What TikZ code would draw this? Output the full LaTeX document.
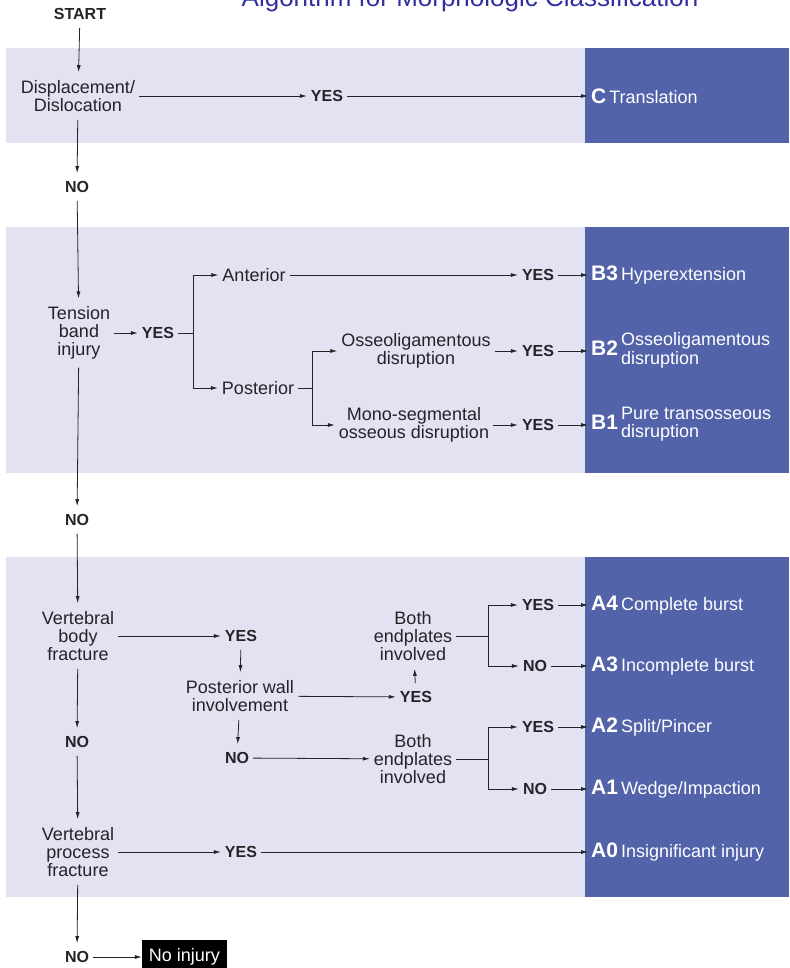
\documentclass[tikz,border=0pt]{standalone}
\usepackage{fontspec}
\setmainfont{Liberation Sans}
\usepackage{xcolor}
\usetikzlibrary{arrows.meta,positioning,calc}
\definecolor{panel}{RGB}{226,226,242}
\definecolor{classbg}{RGB}{82,99,170}
\definecolor{titleblue}{RGB}{48,48,160}
\definecolor{ink}{RGB}{35,35,40}
\tikzset{%
	ptext/.style = {align=center, font=\fontsize{18}{18}\selectfont, inner xsep=4pt, inner ysep=8pt, text=ink},
	ans/.style   = {font=\fontsize{16}{16}\selectfont\bfseries, inner xsep=4pt, inner ysep=8pt, text=ink},
	cls/.style   = {anchor=west, text=white, font=\fontsize{18}{18}\selectfont, inner sep=3pt},
	conn/.style  = {draw=ink, line width=0.8pt},
	arrow/.style = {conn, -{Latex[length=7pt,width=4pt]}},
}
\newcommand{\cl}[2]{\textbf{\fontsize{21}{21}\selectfont #1}\,#2}
\newcommand{\twoline}[2]{\begin{tabular}{@{}l@{}}#1\\#2\end{tabular}}

\begin{document}
\begin{tikzpicture}[x=1pt,y=-1pt]
	\useasboundingbox (0,0) rectangle (789,968);
	% panels
	\fill[panel] (6,48) rectangle (585,143);
	\fill[classbg] (585,48) rectangle (789,143);
	\fill[panel] (6,227) rectangle (585,473);
	\fill[classbg] (585,227) rectangle (789,473);
	\fill[panel] (6,557) rectangle (585,897);
	\fill[classbg] (585,557) rectangle (789,897);
	\node[anchor=base, text=titleblue, font=\fontsize{26}{26}\selectfont] (title) at (470,7) {Algorithm for Morphologic Classification};
	
	% type C
	\node[ans] (start) at (80,14) {START};
	\node[ptext] (disp) at (78,96) {Displacement/\\Dislocation};
	\node[ans] (yesC) at (327,96) {YES};
	\node[cls] (clsC) at (588,96) {\cl{C}{Translation}};
	\draw[arrow] (start) -- (disp);
	\draw[arrow] (disp) -- (yesC);
	\draw[arrow] (yesC) -- (clsC);
	\node[ans] (noC) at (77,187) {NO};
	\draw[arrow] (disp) -- (noC);
	
	% type B
	\node[ptext] (tens) at (79,333) {Tension\\band\\injury};
	\draw[arrow] (noC) -- (tens);
	\node[ans] (yesB) at (158,333) {YES};
	\draw[arrow] (tens) -- (yesB);
	\coordinate (brB) at (193,333);
	\draw[conn] (yesB) -- (brB);
	\node[ptext] (ant) at (254,275) {Anterior};
	\node[ptext] (post) at (258,388) {Posterior};
	\draw[arrow] (brB) |- (ant);
	\draw[arrow] (brB) |- (post);
	\coordinate (brP) at (312,388);
	\draw[conn] (post) -- (brP);
	\node[ptext] (osl) at (416,351) {Osseoligamentous\\disruption};
	\node[ptext] (mono) at (414,425) {Mono-segmental\\osseous disruption};
	\draw[arrow] (brP) |- (osl);
	\draw[arrow] (brP) |- (mono);
	\node[ans] (yesB3) at (538,275) {YES};
	\node[ans] (yesB2) at (538,351) {YES};
	\node[ans] (yesB1) at (538,425) {YES};
	\draw[arrow] (ant) -- (yesB3);
	\draw[arrow] (osl) -- (yesB2);
	\draw[arrow] (mono) -- (yesB1);
	\node[cls] (clsB3) at (588,275) {\cl{B3}{Hyperextension}};
	\node[cls] (clsB2) at (588,351) {\cl{B2}{\twoline{Osseoligamentous}{disruption}}};
	\node[cls] (clsB1) at (588,425) {\cl{B1}{\twoline{Pure transosseous}{disruption}}};
	\draw[arrow] (yesB3) -- (clsB3);
	\draw[arrow] (yesB2) -- (clsB2);
	\draw[arrow] (yesB1) -- (clsB1);
	\node[ans] (noB) at (77,520) {NO};
	\draw[arrow] (tens) -- (noB);
	
	% type A
	\node[ptext] (vbf) at (78,636) {Vertebral\\body\\fracture};
	\draw[arrow] (noB) -- (vbf);
	\node[ans] (yesV) at (241,636) {YES};
	\draw[arrow] (vbf) -- (yesV);
	\node[ptext] (pwall) at (240,696) {Posterior wall\\involvement};
	\draw[arrow] (yesV) -- (pwall);
	\node[ans] (yesW) at (416,697) {YES};
	\draw[arrow] (pwall) -- (yesW);
	\node[ptext] (both1) at (413,636) {Both\\endplates\\involved};
	\draw[arrow] (yesW) -- (both1);
	\coordinate (br1) at (488,636);
	\draw[conn] (both1) -- (br1);
	\node[ans] (yesA4) at (538,605) {YES};
	\node[ans] (noA3) at (535,666) {NO};
	\draw[arrow] (br1) |- (yesA4);
	\draw[arrow] (br1) |- (noA3);
	\node[ans] (noW) at (237,758) {NO};
	\draw[arrow] (pwall) -- (noW);
	\node[ptext] (both2) at (413,759) {Both\\endplates\\involved};
	\draw[arrow] (noW) -- (both2);
	\coordinate (br2) at (488,759);
	\draw[conn] (both2) -- (br2);
	\node[ans] (yesA2) at (538,727) {YES};
	\node[ans] (noA1) at (535,789) {NO};
	\draw[arrow] (br2) |- (yesA2);
	\draw[arrow] (br2) |- (noA1);
	\node[cls] (clsA4) at (588,605) {\cl{A4}{Complete burst}};
	\node[cls] (clsA3) at (588,666) {\cl{A3}{Incomplete burst}};
	\node[cls] (clsA2) at (588,727) {\cl{A2}{Split/Pincer}};
	\node[cls] (clsA1) at (588,789) {\cl{A1}{Wedge/Impaction}};
	\draw[arrow] (yesA4) -- (clsA4);
	\draw[arrow] (noA3) -- (clsA3);
	\draw[arrow] (yesA2) -- (clsA2);
	\draw[arrow] (noA1) -- (clsA1);
	\node[ans] (noV) at (77,742) {NO};
	\draw[arrow] (vbf) -- (noV);
	\node[ptext] (vpf) at (78,852) {Vertebral\\process\\fracture};
	\draw[arrow] (noV) -- (vpf);
	\node[ans] (yesP) at (241,852) {YES};
	\draw[arrow] (vpf) -- (yesP);
	\node[cls] (clsA0) at (588,852) {\cl{A0}{Insignificant injury}};
	\draw[arrow] (yesP) -- (clsA0);
	
	% no injury
	\node[ans] (noF) at (77,957) {NO};
	\draw[arrow] (vpf) -- (noF);
	\node[fill=black, text=white, font=\fontsize{18}{18}\selectfont, minimum width=85pt, minimum height=34pt, inner sep=3pt] (noinj) at (184.5,957) {No injury};
	\draw[arrow] (noF) -- (noinj);
\end{tikzpicture}
\end{document}
